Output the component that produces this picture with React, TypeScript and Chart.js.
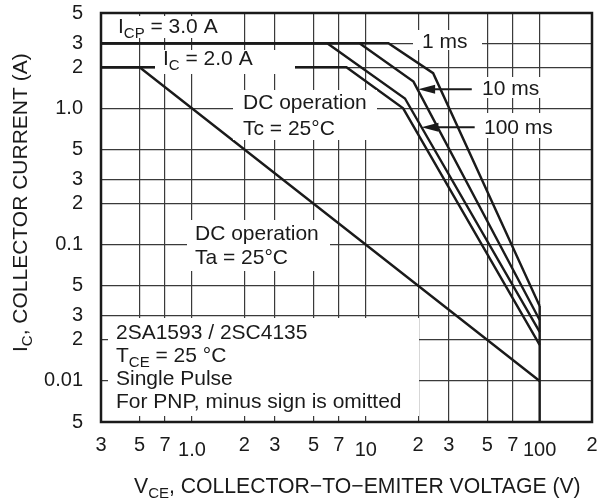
import React, { useEffect, useRef } from 'react';
import { Chart, registerables } from 'chart.js';

Chart.register(...registerables);

const FONT = '"Liberation Sans", Arial, Helvetica, sans-serif';
const INK = '#1a1a1a';

// Axis ticks (values and printed labels)
const X_TICKS = [0.3, 0.5, 0.7, 1, 2, 3, 5, 7, 10, 20, 30, 50, 70, 100, 200];
const X_LABELS = ['3', '5', '7', '1.0', '2', '3', '5', '7', '10', '2', '3', '5', '7', '100', '2'];
const X_LOW_LABELS = ['1.0', '10', '100'];
const Y_TICKS = [5, 3, 2, 1, 0.5, 0.3, 0.2, 0.1, 0.05, 0.03, 0.02, 0.01, 0.005];
const Y_LABELS = ['5', '3', '2', '1.0', '5', '3', '2', '0.1', '5', '3', '2', '0.01', '5'];

// Safe operating area curves: V_CE (V) and I_C (A)
const PULSE_1MS_V = [0.3, 13.5, 24.4, 100];
const PULSE_1MS_I = [3.0, 3.0, 1.81, 0.0355];
const PULSE_10MS_V = [0.3, 9.2, 18.8, 100];
const PULSE_10MS_I = [3.0, 3.0, 1.57, 0.028];
const PULSE_100MS_V = [0.3, 6.0, 16.8, 100];
const PULSE_100MS_I = [3.0, 3.0, 1.18, 0.0229];
const DC_TC_V = [0.3, 7.74, 16.4, 100];
const DC_TC_I = [2.0, 2.0, 1.0, 0.0184];
const DC_TA_V = [0.3, 0.5, 100];
const DC_TA_I = [2.0, 2.0, 0.01];
const VCEO_V = [100, 100];
const VCEO_I = [0.0355, 0.005];

// Arrow pointers (tip on curve, tail at label) in data units
const ARROW_10MS = { tipV: 20.0, tipI: 1.378, tailV: 40.7 };
const ARROW_100MS = { tipV: 20.9, tipI: 0.725, tailV: 42.3 };

type Part = { t: string; sub?: boolean };

function drawRich(ctx: CanvasRenderingContext2D, parts: Part[], x: number, y: number, size = 21) {
  let cx = x;
  for (const p of parts) {
    const s = p.sub ? 15 : size;
    ctx.font = `${s}px ${FONT}`;
    ctx.fillText(p.t, cx, y + (p.sub ? 5 : 0));
    cx += ctx.measureText(p.t).width;
  }
}

function pts(xs: number[], ys: number[]) {
  return xs.map((x, i) => ({ x, y: ys[i] }));
}

const annotationPlugin = {
  id: 'soaAnnotations',
  afterDatasetsDraw(chart: any) {
    const { ctx, chartArea, scales } = chart;
    const xs = scales.x;
    const ys = scales.y;
    ctx.save();
    // white label backgrounds
    ctx.fillStyle = '#ffffff';
    const boxes = [
      [105, 16, 228, 38],
      [155, 50, 295, 74],
      [233, 90, 377, 140],
      [413, 30, 482, 50],
      [474, 77, 545, 98],
      [476, 113, 556, 138],
      [187, 220, 330, 271],
      [108, 318, 419, 416],
    ];
    for (const [x1, y1, x2, y2] of boxes) ctx.fillRect(x1, y1, x2 - x1, y2 - y1);

    ctx.fillStyle = INK;
    ctx.textBaseline = 'alphabetic';
    ctx.textAlign = 'left';
    drawRich(ctx, [{ t: 'I' }, { t: 'CP', sub: true }, { t: ' = 3.0 A' }], 118, 33);
    drawRich(ctx, [{ t: 'I' }, { t: 'C', sub: true }, { t: ' = 2.0 A' }], 163, 65);
    drawRich(ctx, [{ t: 'DC operation' }], 243, 108.5);
    drawRich(ctx, [{ t: 'Tc = 25°C' }], 243, 134.5);
    drawRich(ctx, [{ t: '1 ms' }], 422, 48);
    drawRich(ctx, [{ t: '10 ms' }], 482, 95);
    drawRich(ctx, [{ t: '100 ms' }], 484, 134);
    drawRich(ctx, [{ t: 'DC operation' }], 195, 239.5);
    drawRich(ctx, [{ t: 'Ta = 25°C' }], 195, 264);
    drawRich(ctx, [{ t: '2SA1593 / 2SC4135' }], 116, 339);
    drawRich(ctx, [{ t: 'T' }, { t: 'CE', sub: true }, { t: ' = 25 °C' }], 116, 362);
    drawRich(ctx, [{ t: 'Single Pulse' }], 116, 385);
    drawRich(ctx, [{ t: 'For PNP, minus sign is omitted' }], 116, 408);

    // arrows
    ctx.strokeStyle = INK;
    ctx.lineWidth = 2;
    for (const a of [ARROW_10MS, ARROW_100MS]) {
      const tx = xs.getPixelForValue(a.tipV);
      const ty = ys.getPixelForValue(a.tipI);
      const ex = xs.getPixelForValue(a.tailV);
      ctx.beginPath();
      ctx.moveTo(ex, ty);
      ctx.lineTo(tx + 10, ty);
      ctx.stroke();
      ctx.beginPath();
      ctx.moveTo(tx, ty);
      ctx.lineTo(tx + 17, ty - 4.5);
      ctx.lineTo(tx + 17, ty + 4.5);
      ctx.closePath();
      ctx.fill();
    }

    // frame
    ctx.lineWidth = 2.5;
    ctx.strokeRect(chartArea.left, chartArea.top, chartArea.right - chartArea.left, chartArea.bottom - chartArea.top);

    // axis titles
    ctx.fillStyle = INK;
    ctx.save();
    ctx.translate(26.5, 352);
    ctx.rotate(-Math.PI / 2);
    drawRich(ctx, [{ t: 'I' }, { t: 'C', sub: true }, { t: ', COLLECTOR CURRENT (A)' }], 0, 0);
    ctx.restore();
    drawRich(ctx, [{ t: 'V' }, { t: 'CE', sub: true }, { t: ', COLLECTOR\u2212TO\u2212EMITER VOLTAGE (V)' }], 134, 493, 21.2);
    ctx.restore();
  },
};

export default function App() {
  const ref = useRef<HTMLCanvasElement | null>(null);
  useEffect(() => {
    if (!ref.current) return;
    const line = (data: { x: number; y: number }[]) => ({
      data,
      showLine: true,
      borderColor: INK,
      borderWidth: 2.4,
      pointRadius: 0,
      tension: 0,
      fill: false,
      borderJoinStyle: 'miter' as const,
    });
    const chart = new Chart(ref.current, {
      type: 'scatter',
      data: {
        datasets: [
          line(pts(DC_TA_V, DC_TA_I)),
          line(pts(DC_TC_V, DC_TC_I)),
          line(pts(PULSE_100MS_V, PULSE_100MS_I)),
          line(pts(PULSE_10MS_V, PULSE_10MS_I)),
          line(pts(PULSE_1MS_V, PULSE_1MS_I)),
          line(pts(VCEO_V, VCEO_I)),
        ],
      },
      options: {
        animation: false,
        responsive: false,
        devicePixelRatio: 1,
        layout: { padding: { left: 0, top: 13, right: 6, bottom: 0 } },
        plugins: { legend: { display: false }, tooltip: { enabled: false } },
        scales: {
          x: {
            type: 'logarithmic',
            min: 0.3,
            max: 200,
            afterBuildTicks: (s: any) => {
              s.ticks = X_TICKS.map((v) => ({ value: v }));
            },
            afterFit: (s: any) => {
              s.height = 82;
              s.paddingLeft = 0;
              s.paddingRight = 0;
            },
            border: { display: false },
            grid: { color: '#3a3a3a', lineWidth: 1.2, drawTicks: false },
            ticks: {
              autoSkip: false,
              maxRotation: 0,
              minRotation: 0,
              padding: 11,
              color: INK,
              font: (c: any) => ({
                family: FONT,
                size: 20,
                lineHeight: X_LOW_LABELS.includes(X_LABELS[c.index]) ? 1.7 : 1.2,
              }),
              callback: (_v: any, i: number) => X_LABELS[i],
            },
          },
          y: {
            type: 'logarithmic',
            min: 0.005,
            max: 5,
            afterBuildTicks: (s: any) => {
              s.ticks = Y_TICKS.map((v) => ({ value: v }));
            },
            afterFit: (s: any) => {
              s.width = 101;
              s.paddingTop = 0;
              s.paddingBottom = 0;
            },
            border: { display: false },
            grid: { color: '#3a3a3a', lineWidth: 1.2, drawTicks: false },
            ticks: {
              autoSkip: false,
              padding: 18,
              color: INK,
              font: { family: FONT, size: 20 },
              callback: (_v: any, i: number) => Y_LABELS[i],
            },
          },
        },
      },
      plugins: [annotationPlugin],
    });
    return () => chart.destroy();
  }, []);
  return (
    <div style={{ position: 'absolute', left: 0, top: 0, width: 598, height: 504, background: '#fff' }}>
      <canvas ref={ref} width={598} height={504} style={{ display: 'block' }} />
    </div>
  );
}
